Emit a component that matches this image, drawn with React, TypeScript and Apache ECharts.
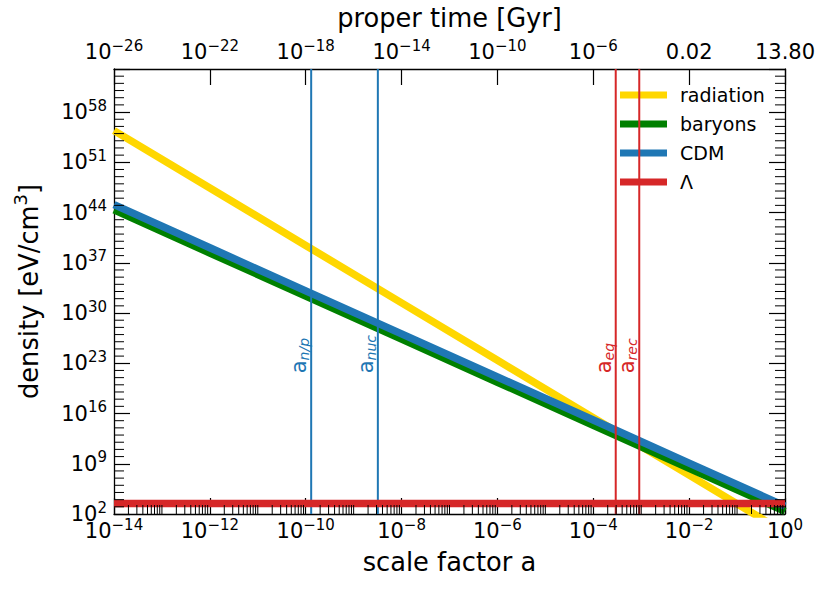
import React, { useEffect, useRef } from 'react';
import * as echarts from 'echarts';

// ---- data ----
const scaleFactor = [1e-14, 1e-12, 1e-10, 1e-8, 1e-6, 1e-4, 1e-2, 1];
const radiationDensity = [2.6e55, 2.6e47, 2.6e39, 2.6e31, 2.6e23, 2.6e15, 2.6e7, 0.26];
const baryonDensity = [2.3e44, 2.3e38, 2.3e32, 2.3e26, 2.3e20, 2.3e14, 2.3e8, 230];
const cdmDensity = [1.24e45, 1.24e39, 1.24e33, 1.24e27, 1.24e21, 1.24e15, 1.24e9, 1240];
const lambdaDensity = [2900, 2900, 2900, 2900, 2900, 2900, 2900, 2900];

const seriesNames = ['radiation', 'baryons', 'CDM', 'Λ'];

const epochNames = ['n/p', 'nuc', 'eq', 'rec'];
const epochScaleFactor = [1.3e-10, 3.2e-9, 2.94e-4, 9.1e-4];

// proper time [Gyr] at the bottom-axis major ticks
const timeTickLabels = ['1e-26', '1e-22', '1e-18', '1e-14', '1e-10', '1e-6', '0.02', '13.80'];

// ---- styles ----
const FONT = 'DejaVu Sans';
const COLORS = ['#FFD700', '#008000', '#1f77b4', '#d62728'];
const EPOCH_COLORS = ['#1f77b4', '#1f77b4', '#d62728', '#d62728'];
const X_MIN = 1e-14;
const X_MAX = 1;
const Y_MIN = 1e2;
const Y_MAX = 1e64;
const LABEL_Y = 4e21;

const minus = (s: string) => s.replace('-', '\u2212');

const tickRich = {
  b: { fontSize: 21, lineHeight: 28, fontFamily: FONT, color: '#000' },
  sup: { fontSize: 15, lineHeight: 15, verticalAlign: 'top', fontFamily: FONT, color: '#000' },
};

function xMinorTicks() {
  const out: number[][] = [];
  for (let n = -14; n < 0; n++) {
    for (let k = 1; k <= 9; k++) {
      if (k === 1 && n % 2 === 0) continue;
      out.push([k * Math.pow(10, n), Y_MIN]);
    }
  }
  return out;
}

function yMinorTicks() {
  const out: number[][] = [];
  for (let e = 3; e < 64; e++) {
    if ((e - 2) % 7 === 0) continue;
    out.push([X_MIN, Math.pow(10, e)]);
  }
  return out;
}

export default function App() {
  const ref = useRef<HTMLDivElement>(null);

  useEffect(() => {
    document.body.style.margin = '0';
    const chart = echarts.init(ref.current!, null, { renderer: 'svg' });

    const axisLine = { show: true, onZero: false, lineStyle: { color: '#000', width: 1.3 } };
    const majorTick = { show: true, inside: true, length: 16, lineStyle: { color: '#000', width: 1.2 } };

    const lineSeries = [radiationDensity, baryonDensity, cdmDensity, lambdaDensity].map((vals, i) => ({
      type: 'line',
      name: seriesNames[i],
      data: scaleFactor.map((a, j) => [a, vals[j]]),
      symbol: 'none',
      showSymbol: false,
      color: COLORS[i],
      itemStyle: { color: COLORS[i] },
      lineStyle: { color: COLORS[i], width: 7.5, cap: 'butt' },
      silent: true,
      z: 2,
    }));

    const epochLines = epochScaleFactor.map((a, i) => ({
      type: 'line',
      name: 'epoch-' + epochNames[i],
      data: [
        [a, Y_MIN],
        [a, Y_MAX],
      ],
      symbol: 'none',
      showSymbol: false,
      color: EPOCH_COLORS[i],
      lineStyle: { color: EPOCH_COLORS[i], width: 2 },
      silent: true,
      z: 2,
    }));

    const epochLabels = {
      type: 'scatter',
      name: 'epochLabels',
      symbol: 'circle',
      symbolSize: 1,
      itemStyle: { color: 'transparent', opacity: 1 },
      silent: true,
      z: 3,
      data: epochScaleFactor.map((a, i) => ({
        value: [a, LABEL_Y],
        label: {
          show: true,
          position: 'inside',
          align: 'left',
          verticalAlign: 'bottom',
          rotate: 90,
          opacity: 1,
          color: EPOCH_COLORS[i],
          formatter: `{a|a}{s|${epochNames[i]}}`,
          rich: {
            a: { fontSize: 21, lineHeight: 24, fontFamily: FONT, color: EPOCH_COLORS[i] },
            s: { fontSize: 14, lineHeight: 14, verticalAlign: 'bottom', fontStyle: 'italic', fontFamily: FONT, color: EPOCH_COLORS[i] },
          },
        },
      })),
    };

    const tickStyle = { stroke: '#000', lineWidth: 1 };
    const xMinor = {
      type: 'custom',
      name: 'xminor',
      coordinateSystem: 'cartesian2d',
      silent: true,
      z: 4,
      data: xMinorTicks(),
      renderItem: (_p: any, api: any) => {
        const p = api.coord([api.value(0), api.value(1)]);
        return { type: 'line', shape: { x1: p[0], y1: p[1], x2: p[0], y2: p[1] - 9 }, style: tickStyle };
      },
    };
    const yMinor = {
      type: 'custom',
      name: 'yminor',
      coordinateSystem: 'cartesian2d',
      silent: true,
      z: 4,
      data: yMinorTicks(),
      renderItem: (_p: any, api: any) => {
        const y = api.value(1);
        const l = api.coord([X_MIN, y]);
        const r = api.coord([X_MAX, y]);
        return {
          type: 'group',
          children: [
            { type: 'line', shape: { x1: l[0], y1: l[1], x2: l[0] + 10, y2: l[1] }, style: tickStyle },
            { type: 'line', shape: { x1: r[0], y1: r[1], x2: r[0] - 10, y2: r[1] }, style: tickStyle },
          ],
        };
      },
    };

    const expLabel = (v: number) => `{b|10}{sup|${minus(String(Math.round(Math.log10(v))))}}`;

    const option = {
      animation: false,
      grid: { left: 114, top: 69, width: 671, height: 445, outerBoundsMode: 'none' },
      legend: {
        data: seriesNames,
        orient: 'vertical',
        left: 620,
        top: 84,
        padding: 0,
        itemWidth: 47,
        itemHeight: 7,
        itemGap: 7,
        icon: 'rect',
        z: 1,
        selectedMode: false,
        textStyle: { fontFamily: FONT, fontSize: 19, color: '#000', lineHeight: 22, padding: [0, 0, 0, 8] },
      },
      xAxis: [
        {
          type: 'log',
          logBase: 10,
          min: X_MIN,
          max: X_MAX,
          interval: 2,
          position: 'bottom',
          axisLine,
          axisTick: majorTick,
          splitLine: { show: false },
          axisLabel: {
            margin: 3,
            showMinLabel: true,
            showMaxLabel: true,
            formatter: expLabel,
            rich: tickRich,
          },
          name: 'scale factor a',
          nameLocation: 'middle',
          nameGap: 33,
          nameTextStyle: { fontFamily: FONT, fontSize: 25.7, lineHeight: 30, color: '#000' },
        },
        {
          type: 'log',
          logBase: 10,
          min: X_MIN,
          max: X_MAX,
          interval: 2,
          position: 'top',
          axisLine,
          axisTick: majorTick,
          splitLine: { show: false },
          axisLabel: {
            margin: 3,
            showMinLabel: true,
            showMaxLabel: true,
            formatter: (v: number) => {
              const idx = Math.round((Math.log10(v) + 14) / 2);
              const s = timeTickLabels[idx] ?? '';
              if (s.startsWith('1e')) return `{b|10}{sup|${minus(s.slice(2))}}`;
              return `{b|${s}}`;
            },
            rich: tickRich,
          },
          name: 'proper time [Gyr]',
          nameLocation: 'middle',
          nameGap: 25,
          nameTextStyle: { fontFamily: FONT, fontSize: 25.7, lineHeight: 30, color: '#000' },
        },
      ],
      yAxis: [
        {
          type: 'log',
          logBase: 10,
          min: Y_MIN,
          max: Y_MAX,
          interval: 7,
          position: 'left',
          axisLine,
          axisTick: majorTick,
          splitLine: { show: false },
          axisLabel: {
            margin: 7,
            showMinLabel: true,
            formatter: (v: number) => {
              const e = Math.round(Math.log10(v));
              if ((e - 2) % 7 !== 0) return '';
              return expLabel(v);
            },
            rich: tickRich,
          },
          name: '{b|density [eV/cm}{sup|3}{b|]}',
          nameLocation: 'middle',
          nameRotate: 90,
          nameGap: 67,
          nameTextStyle: {
            fontFamily: FONT,
            fontSize: 25.7,
            color: '#000',
            rich: {
              b: { fontSize: 25.7, lineHeight: 36, fontFamily: FONT, color: '#000' },
              sup: { fontSize: 18, lineHeight: 18, verticalAlign: 'top', fontFamily: FONT, color: '#000' },
            },
          },
        },
        {
          type: 'log',
          logBase: 10,
          min: Y_MIN,
          max: Y_MAX,
          interval: 7,
          position: 'right',
          axisLine,
          axisTick: majorTick,
          splitLine: { show: false },
          axisLabel: { show: false },
        },
      ],
      series: [
        lineSeries[0],
        lineSeries[1],
        lineSeries[2],
        ...epochLines,
        lineSeries[3],
        epochLabels,
        xMinor,
        yMinor,
      ],
    };

    chart.setOption(option as any);
    return () => chart.dispose();
  }, []);

  return <div ref={ref} style={{ width: 830, height: 593 }} />;
}
